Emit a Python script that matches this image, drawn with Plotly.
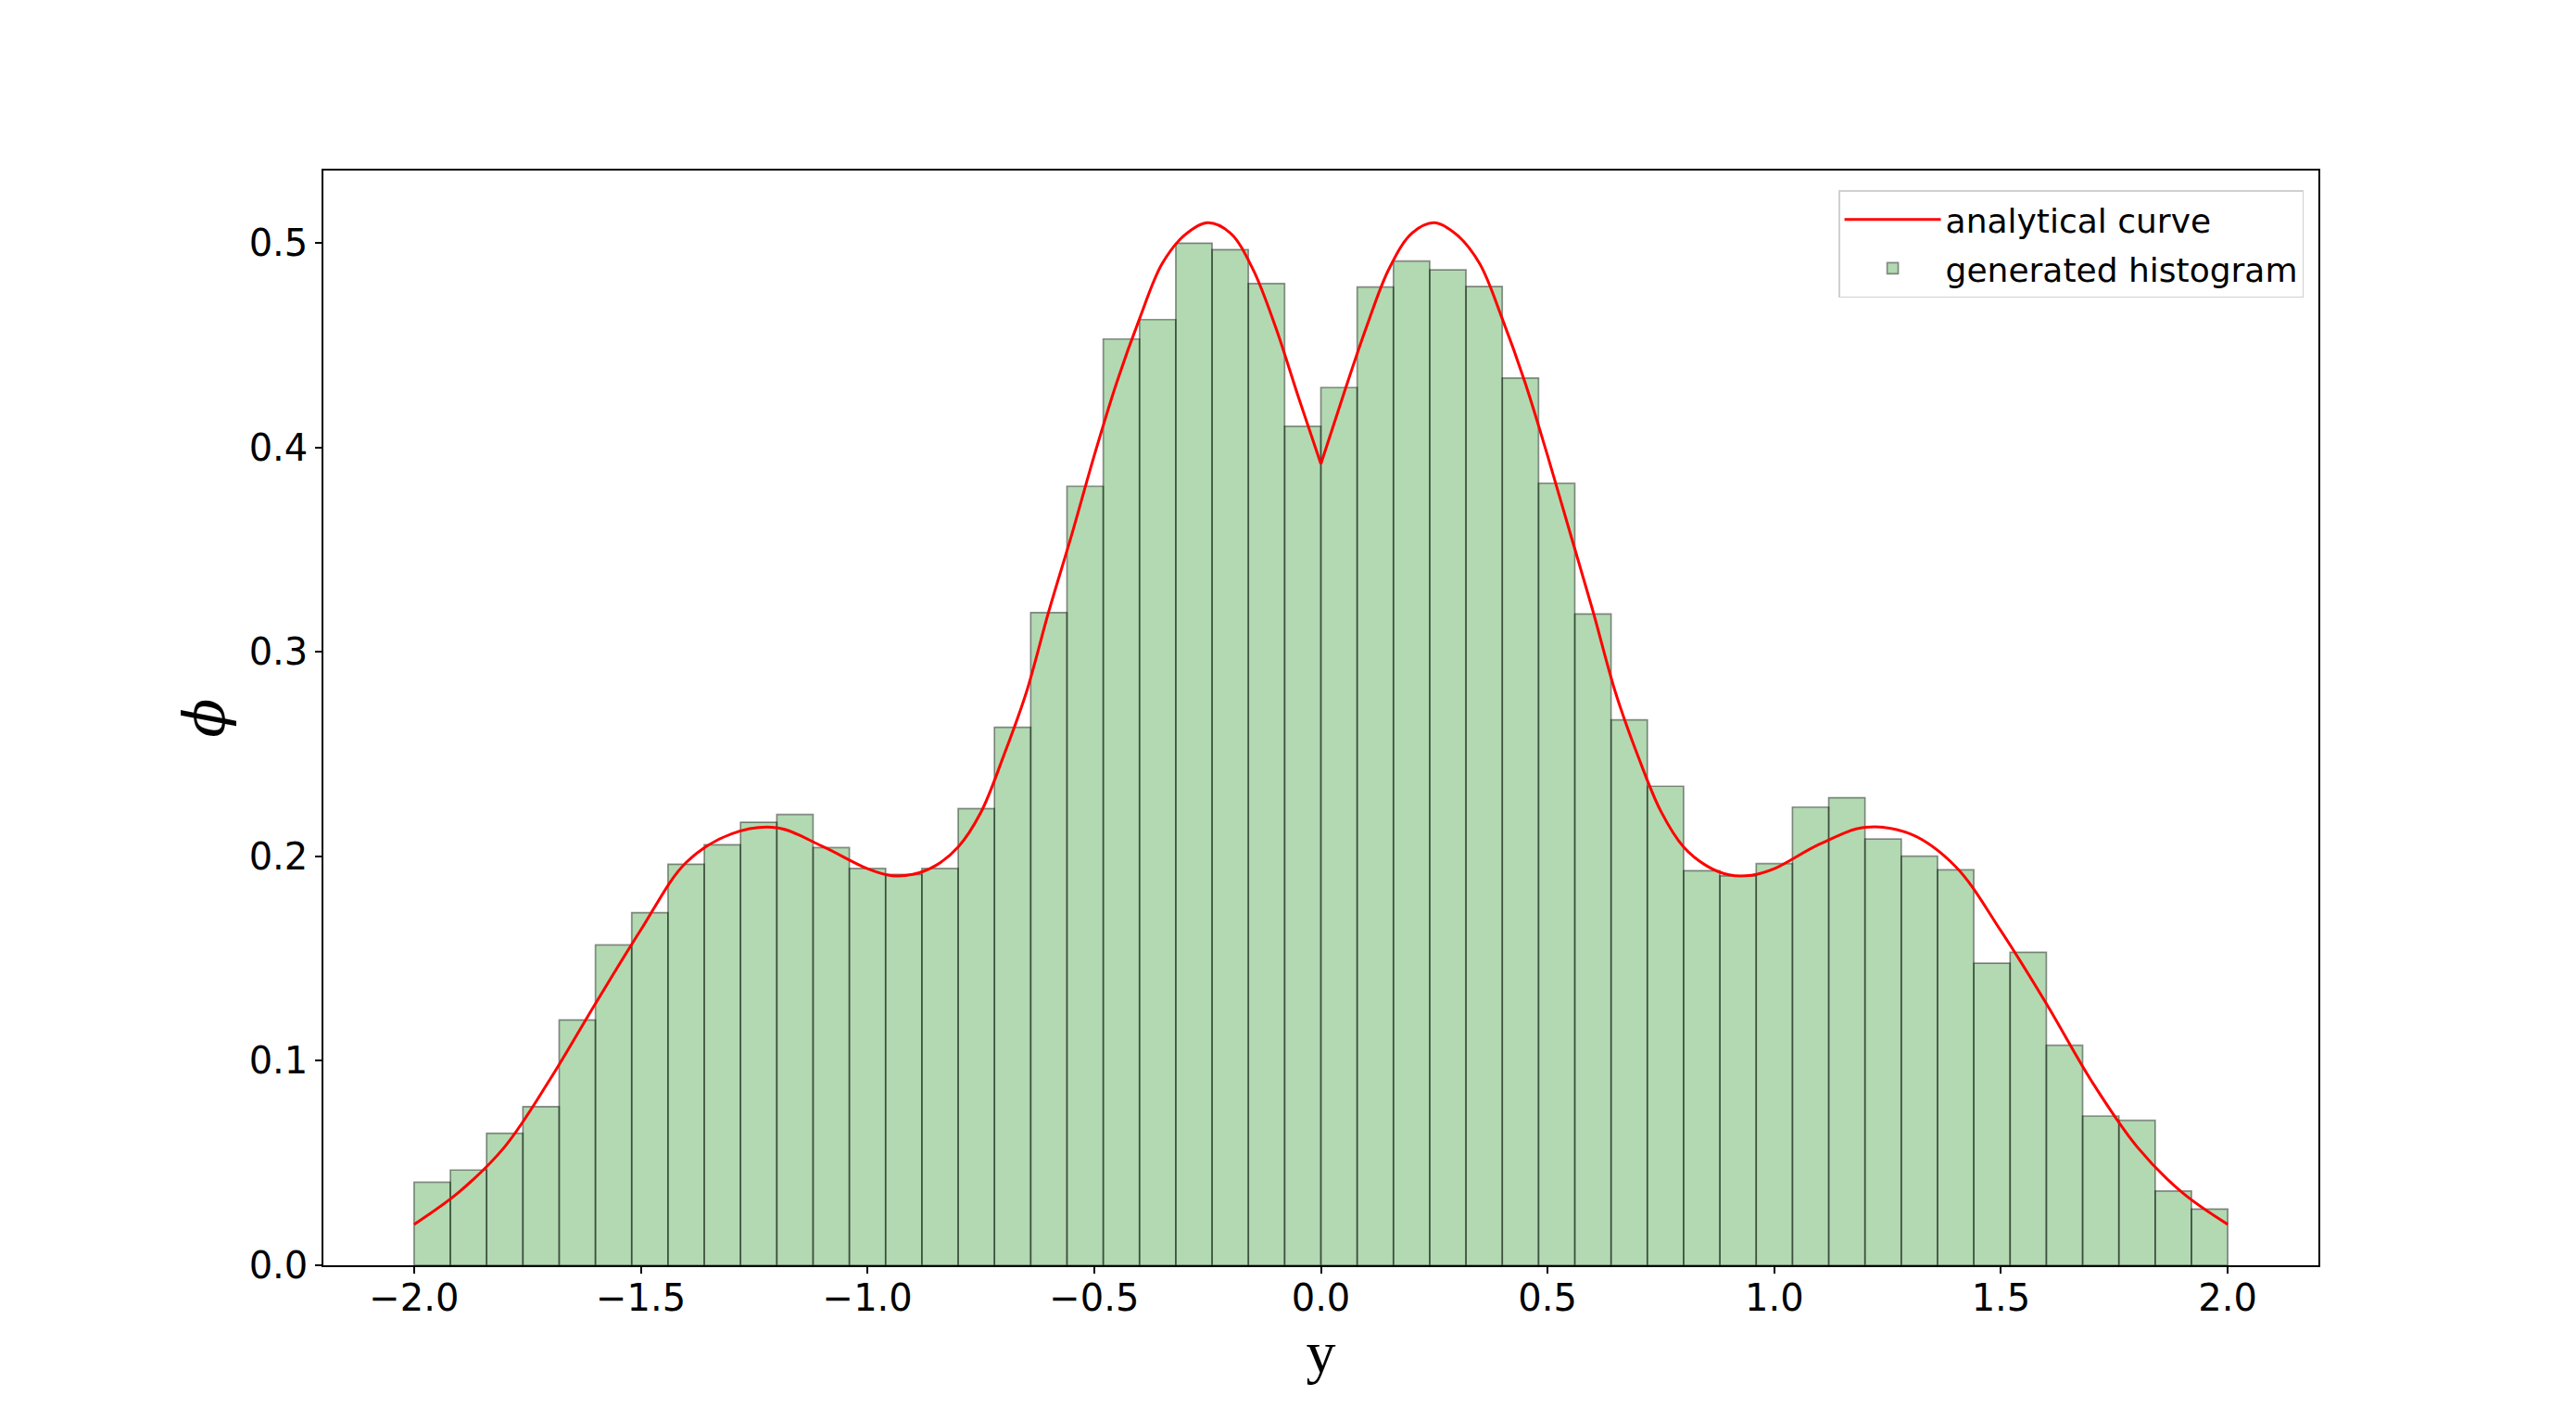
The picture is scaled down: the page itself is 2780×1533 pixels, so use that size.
import numpy as np
import plotly.graph_objects as go

# ---------------- data ----------------
bin_start = -2.0
bin_width = 0.08
hist_heights = [
    0.0406, 0.0466, 0.0646, 0.0776, 0.1200, 0.1567, 0.1725, 0.1962, 0.2057, 0.2167,
    0.2205, 0.2043, 0.1941, 0.1912, 0.1941, 0.2234, 0.2632, 0.3193, 0.3811, 0.4531,
    0.4626, 0.5000, 0.4968, 0.4802, 0.4104, 0.4294, 0.4785, 0.4912, 0.4869, 0.4788,
    0.4340, 0.3825, 0.3186, 0.2668, 0.2343, 0.1930, 0.1905, 0.1965, 0.2241, 0.2287,
    0.2085, 0.2001, 0.1934, 0.1478, 0.1531, 0.1076, 0.0730, 0.0709, 0.0363, 0.0275,
]

curve_x = [
    -2.0, -1.9, -1.8, -1.7, -1.6, -1.5, -1.4, -1.3, -1.2, -1.1, -1.0, -0.95, -0.9, -0.85,
    -0.8, -0.75, -0.7, -0.65, -0.6, -0.55, -0.5, -0.45, -0.4, -0.35, -0.3, -0.25, -0.2,
    -0.15, -0.1, -0.05, 0.0,
    0.05, 0.1, 0.15, 0.2, 0.25, 0.3, 0.35, 0.4, 0.45, 0.5, 0.55, 0.6, 0.65, 0.7, 0.75,
    0.8, 0.85, 0.9, 0.95, 1.0, 1.1, 1.2, 1.3, 1.4, 1.5, 1.6, 1.7, 1.8, 1.9, 2.0,
]
curve_y = [
    0.020, 0.036, 0.058, 0.091, 0.128, 0.164, 0.197, 0.211, 0.214, 0.205, 0.194, 0.1907,
    0.1912, 0.1955, 0.2046, 0.2215, 0.249, 0.280, 0.320, 0.357, 0.396, 0.432, 0.463,
    0.490, 0.504, 0.510, 0.505, 0.4873, 0.459, 0.425, 0.392,
    0.426, 0.4586, 0.4873, 0.5047, 0.510, 0.504, 0.490, 0.463, 0.432, 0.396, 0.358,
    0.320, 0.280, 0.2487, 0.222, 0.2046, 0.1955, 0.191, 0.1908, 0.194, 0.206, 0.2142,
    0.211, 0.195, 0.1635, 0.128, 0.090, 0.058, 0.0355, 0.020,
]

x_tick_vals = [-2.0, -1.5, -1.0, -0.5, 0.0, 0.5, 1.0, 1.5, 2.0]
x_tick_text = ["\u22122.0", "\u22121.5", "\u22121.0", "\u22120.5", "0.0", "0.5", "1.0", "1.5", "2.0"]
y_tick_vals = [0.0, 0.1, 0.2, 0.3, 0.4, 0.5]
y_tick_text = ["0.0", "0.1", "0.2", "0.3", "0.4", "0.5"]

series_names = ["analytical curve", "generated histogram"]

# ---------------- figure ----------------
bin_left = bin_start + bin_width * np.arange(len(hist_heights))
cx = np.array(curve_x)
cy = np.array(curve_y)
left_mask = cx <= 0
right_mask = cx >= 0

fig = go.Figure()

curve_line = dict(color="red", width=3.0, shape="spline", smoothing=1.0)
fig.add_trace(go.Scatter(
    x=cx[left_mask], y=cy[left_mask], mode="lines", line=curve_line,
    name=series_names[0], legendgroup="curve", showlegend=True,
))
fig.add_trace(go.Scatter(
    x=cx[right_mask], y=cy[right_mask], mode="lines", line=curve_line,
    name=series_names[0], legendgroup="curve", showlegend=False,
))
fig.add_trace(go.Bar(
    x=bin_left, y=hist_heights, width=bin_width, offset=0,
    marker=dict(color="rgba(0,128,0,0.3)", line=dict(color="rgba(0,0,0,0.42)", width=1.7)),
    name=series_names[1], legendgroup="hist",
))

axis_common = dict(
    showline=True, mirror=True, linecolor="black", linewidth=1.5,
    ticks="outside", ticklen=7, tickwidth=1.5, tickcolor="black",
    showgrid=False, zeroline=False,
    tickfont=dict(family="DejaVu Sans", size=40, color="black"),
)

fig.update_layout(
    width=2780, height=1533,
    margin=dict(l=349, r=278, t=184, b=168),
    paper_bgcolor="white", plot_bgcolor="white",
    xaxis=dict(
        range=[-2.2, 2.2], tickvals=x_tick_vals, ticktext=x_tick_text,
        ticklabelstandoff=-8,
        title=dict(text="y", font=dict(family="Liberation Serif, DejaVu Serif", size=64, color="black"),
                   standoff=2),
        **axis_common,
    ),
    yaxis=dict(
        range=[0, 0.5355], tickvals=y_tick_vals, ticktext=y_tick_text,
        title=dict(text="<i>\u03d5</i>", font=dict(family="DejaVu Serif", size=62, color="black"),
                   standoff=6),
        **axis_common,
    ),
    legend=dict(
        x=0.9926, xanchor="right", y=0.982, yanchor="top",
        bgcolor="rgba(255,255,255,0.8)", bordercolor="#d0d0d0", borderwidth=1.5,
        font=dict(family="DejaVu Sans", size=36, color="black"),
        tracegroupgap=3, itemwidth=104,
    ),
    showlegend=True,
)

fig.write_html("out.html")
